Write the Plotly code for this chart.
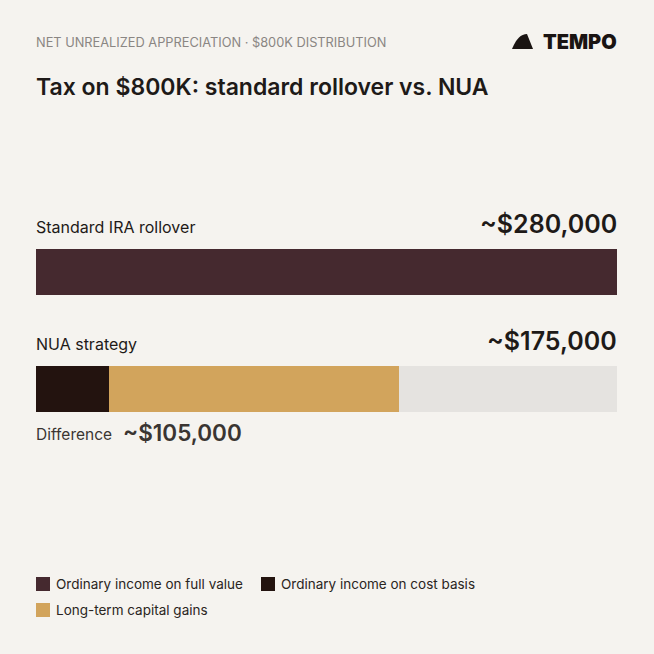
import plotly.graph_objects as go

BG = "#f5f3ef"
INK = "#1e1a18"

# data
rows = ["Standard IRA rollover", "NUA strategy"]
totals = [280000, 175000]
full_value = [280000, 0]
cost_basis = [0, 35000]
ltcg = [0, 140000]
difference = 105000

series = [
    ("Ordinary income on full value", full_value, "#45292f"),
    ("Ordinary income on cost basis", cost_basis, "#23130f"),
    ("Long-term capital gains", ltcg, "#d2a45c"),
]

W = H = 654
ycent = [272, 389]  # pixel rows of the bars

fig = go.Figure()
for name, vals, col in series:
    fig.add_trace(go.Bar(y=ycent, x=vals, orientation="h", width=46,
                         marker=dict(color=col, line_width=0), name=name,
                         showlegend=False))
# unused remainder on the NUA row
fig.add_trace(go.Bar(y=ycent, x=[0, totals[0] - totals[1]], orientation="h", width=46,
                     marker=dict(color="#e5e3e0", line_width=0), showlegend=False))

fig.update_layout(
    width=W, height=H, barmode="stack", plot_bgcolor=BG, paper_bgcolor=BG,
    margin=dict(l=0, r=0, t=0, b=0),
    xaxis=dict(range=[0, totals[0]], domain=[36 / W, 617 / W], visible=False, fixedrange=True),
    yaxis=dict(range=[H, 0], visible=False, fixedrange=True),
    font=dict(family="Inter", color=INK),
)

def txt(x, y, s, size, color=INK, anchor="left", weight=None):
    dx = -2 if anchor == "left" else 2
    fig.add_annotation(xref="paper", yref="paper", x=(x + dx) / W, y=1 - y / H, text=s,
                       showarrow=False, xanchor=anchor, yanchor="middle",
                       font=dict(size=size, color=color, family="Inter", weight=weight))

txt(36, 42, "NET UNREALIZED APPRECIATION · $800K DISTRIBUTION", 12.8, "#8a8683")
txt(36, 87, "Tax on $800K: standard rollover vs. NUA", 23, weight=600)
txt(617, 42, "TEMPO", 20, "#1a1412", anchor="right", weight=900)
fig.add_shape(type="path", xref="paper", yref="paper",
              path=f"M {512/W} {1-49/H} Q {518/W} {1-34/H} {527/W} {1-34/H} L {533/W} {1-49/H} Z",
              fillcolor="#1a1412", line_width=0)

txt(36, 227, rows[0], 16)
txt(617, 224, f"~${totals[0]:,}", 25, anchor="right", weight=600)
txt(36, 344, rows[1], 16)
txt(617, 341, f"~${totals[1]:,}", 25, anchor="right", weight=600)
txt(36, 434, "Difference", 15.5, "#3a3532")
txt(123, 432, f"~${difference:,}", 22.5, "#3a3532", weight=600)

# legend
leg = [(36, 584), (261, 584), (36, 610)]
for (lx, ly), (name, _, col) in zip(leg, series):
    fig.add_shape(type="rect", xref="paper", yref="paper",
                  x0=lx / W, x1=(lx + 14) / W, y0=1 - (ly - 7) / H, y1=1 - (ly + 7) / H,
                  fillcolor=col, line_width=0)
    txt(lx + 20, ly, name, 13.5, "#2a2522")

fig.write_html("out.html", config={"displayModeBar": False},
               post_script="document.body.style.margin='0';")
